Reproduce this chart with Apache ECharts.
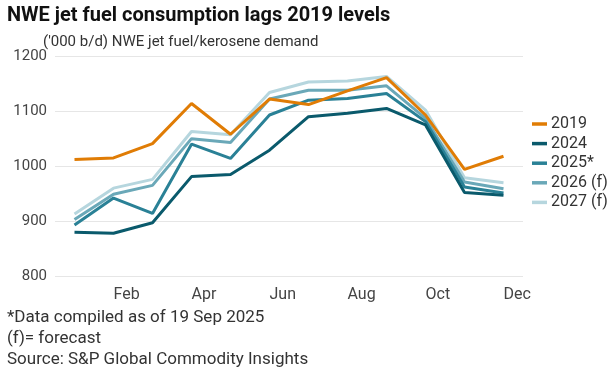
<!DOCTYPE html>
<html><head><meta charset="utf-8">
<script src="https://cdn.jsdelivr.net/npm/echarts@6/dist/echarts.min.js"></script>
<style>html,body{margin:0;padding:0;background:#fff}#c{width:613px;height:379px}</style>
</head><body><div id="c"></div>
<script>
const months = ['Jan','Feb','Mar','Apr','May','Jun','Jul','Aug','Sep','Oct','Nov','Dec'];
const yTicks = [800, 900, 1000, 1100, 1200];
const s2019 = [1013, 1016, 1042, 1115, 1059, 1123, 1113, 1138, 1162, 1094, 995, 1019];
const s2024 = [881, 879, 898, 982, 986, 1030, 1091, 1097, 1106, 1076, 953, 948];
const s2025 = [894, 943, 915, 1041, 1015, 1094, 1121, 1124, 1133, 1082, 963, 952];
const s2026 = [904, 950, 966, 1051, 1044, 1123, 1139, 1139, 1147, 1088, 972, 960];
const s2027 = [914, 961, 977, 1064, 1058, 1135, 1154, 1156, 1164, 1103, 980, 971];
const seriesNames = ['2019', '2024', '2025*', '2026 (f)', '2027 (f)'];
const seriesData = [s2019, s2024, s2025, s2026, s2027];
const colors = ['#e07c05', '#0a5a6c', '#2a8196', '#6aa8b8', '#b6d6de'];
const zs = [10, 8, 6, 4, 2];
const title = 'NWE jet fuel consumption lags 2019 levels';
const subtitle = "('000 b/d) NWE jet fuel/kerosene demand";
const footer = ['*Data compiled as of 19 Sep 2025', '(f)= forecast', 'Source: S&P Global Commodity Insights'];

const FONT = 'Roboto';
const chart = echarts.init(document.getElementById('c'), null, {renderer: 'canvas'});
chart.setOption({
  animation: false,
  textStyle: {fontFamily: FONT},
  grid: {left: 55, right: 90, top: 56.7, bottom: 102.3, containLabel: false},
  xAxis: {
    type: 'category', data: months, boundaryGap: true,
    axisLine: {show: false}, axisTick: {show: false},
    axisLabel: {interval: (i) => i % 2 === 1, align: 'left', margin: 10, color: '#444', fontSize: 16, fontFamily: FONT}
  },
  yAxis: {
    type: 'value', min: yTicks[0], max: yTicks[yTicks.length - 1], interval: 100,
    axisLine: {show: false}, axisTick: {show: false},
    axisLabel: {margin: 8, color: '#444', fontSize: 15, fontFamily: FONT, formatter: (v) => String(v)},
    splitLine: {lineStyle: {color: '#e6e6e6', width: 1}}
  },
  legend: {
    orient: 'vertical', left: 527, top: 110.5, itemGap: 2.6,
    icon: 'rect', itemWidth: 15, itemHeight: 3.5,
    textStyle: {fontSize: 16, color: '#333', lineHeight: 17, fontFamily: FONT, padding: [0, 0, 0, -1]},
    data: seriesNames
  },
  series: seriesNames.map((n, i) => ({
    name: n, type: 'line', data: seriesData[i], symbol: 'none', z: zs[i],
    lineStyle: {color: colors[i], width: 3}, itemStyle: {color: colors[i]}
  })),
  graphic: [
    {type: 'text', left: 7, top: 6, style: {text: title, font: 'bold 20px ' + FONT, fill: '#111'}},
    {type: 'text', left: 43, top: 35, style: {text: subtitle, font: '15px ' + FONT, fill: '#333'}},
    {type: 'text', left: 7, top: 309, style: {text: footer[0], font: '17px ' + FONT, fill: '#333'}},
    {type: 'text', left: 7, top: 330, style: {text: footer[1], font: '17px ' + FONT, fill: '#333'}},
    {type: 'text', left: 7, top: 351, style: {text: footer[2], font: '17px ' + FONT, fill: '#333'}}
  ]
});
</script></body></html>
